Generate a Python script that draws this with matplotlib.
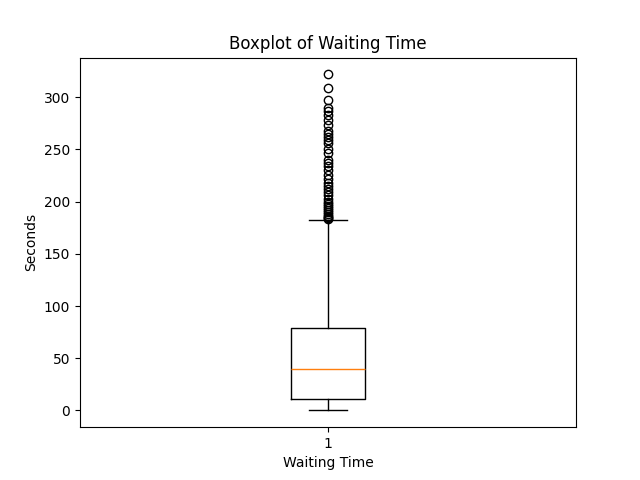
import matplotlib
matplotlib.use("Agg")
import matplotlib.pyplot as plt

# summary stats
whislo = 0
q1 = 11
med = 40
q3 = 79
whishi = 182
fliers = [322, 309, 297, 290, 287, 283, 278, 273, 268, 265, 262, 259, 256,
          250, 247, 240, 237, 234, 230, 226, 222, 218, 215, 212, 209, 206,
          203, 200, 198, 196, 194, 192, 190, 188, 186, 185, 184, 183]

stats = [{'whislo': whislo, 'q1': q1, 'med': med, 'q3': q3,
          'whishi': whishi, 'fliers': fliers, 'label': '1'}]

fig, ax = plt.subplots(figsize=(6.4, 4.8), dpi=100)
ax.bxp(stats)
ax.set_title('Boxplot of Waiting Time')
ax.set_xlabel('Waiting Time')
ax.set_ylabel('Seconds')
ax.set_ylim(-16, 338)
fig.savefig('out.png')
